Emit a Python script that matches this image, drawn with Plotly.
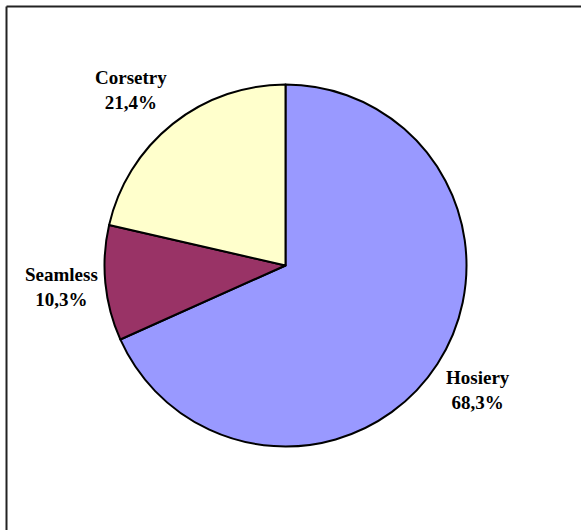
import math
import plotly.graph_objects as go

labels = ["Hosiery", "Seamless", "Corsetry"]
values = [68.3, 10.3, 21.4]
colors = ["#9999FF", "#993366", "#FFFFCC"]

W, H = 581, 530
cx_px, cy_px, R = 285.5, 265.5, 181.0
# small per-label nudges (px) to mimic original label placement
label_nudge = [(0, 0), (5, -1), (-11, 4)]

fig = go.Figure(go.Pie(
    labels=labels, values=values, sort=False, direction="clockwise", rotation=0,
    marker=dict(colors=colors, line=dict(color="black", width=2)),
    textinfo="none", hoverinfo="label+percent", showlegend=False,
    domain=dict(x=[(cx_px - R) / W, (cx_px + R) / W],
                y=[1 - (cy_px + R) / H, 1 - (cy_px - R) / H]),
))

total = sum(values)
cum = 0.0
ann = []
for (lab, v), (nx, ny) in zip(zip(labels, values), label_nudge):
    mid = (cum + v / 2) / total * 2 * math.pi
    cum += v
    r = 1.27 * R
    x_px = cx_px + r * math.sin(mid) + nx
    y_px = cy_px - r * math.cos(mid) + ny
    pct = f"{v / total * 100:.1f}".replace(".", ",") + "%"
    ann.append(dict(x=x_px / W, y=1 - y_px / H, xref="paper", yref="paper",
                    text=f"<b>{lab}<br>{pct}</b>", showarrow=False,
                    xanchor="center", yanchor="middle",
                    font=dict(family="Liberation Serif, serif", size=19, color="black")))

fig.update_layout(
    width=W, height=H, margin=dict(l=0, r=0, t=0, b=0),
    paper_bgcolor="white", plot_bgcolor="white",
    annotations=ann,
    shapes=[
        dict(type="line", xref="paper", yref="paper", x0=6.5 / W, x1=1, y0=1 - 6.5 / H, y1=1 - 6.5 / H,
             line=dict(color="#222222", width=2)),
        dict(type="line", xref="paper", yref="paper", x0=6.5 / W, x1=6.5 / W, y0=0, y1=1 - 6.5 / H,
             line=dict(color="#222222", width=2)),
    ],
)

fig.write_html("out.html", config={"displayModeBar": False},
               post_script="document.body.style.margin='0';document.body.style.overflow='hidden';")
